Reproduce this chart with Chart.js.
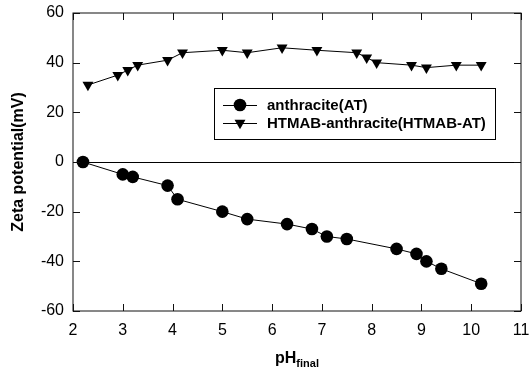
<!DOCTYPE html>
<html>
<head>
<meta charset="utf-8">
<script src="https://cdn.jsdelivr.net/npm/chart.js@4.4.1/dist/chart.umd.min.js"></script>
<style>
  body { margin: 0; background: #fff; }
</style>
</head>
<body>
<canvas id="graficoZeta" width="529" height="374"></canvas>
<script>
// anthracite(AT)
const phAT = [2.2, 3.0, 3.2, 3.9, 4.1, 5.0, 5.5, 6.3, 6.8, 7.1, 7.5, 8.5, 8.9, 9.1, 9.4, 10.2]
const zetaAT = [0, -5, -6, -9.5, -15, -20, -23, -25, -27, -30, -31, -35, -37, -40, -43, -49]
// HTMAB-anthracite(HTMAB-AT)
const phHT = [2.3, 2.9, 3.1, 3.3, 3.9, 4.2, 5.0, 5.5, 6.2, 6.9, 7.7, 7.9, 8.1, 8.8, 9.1, 9.7, 10.2]
const zetaHT = [31, 35, 37, 39, 41, 44, 45, 44, 46, 45, 44, 42, 40, 39, 38, 39, 39]

const xTicks = [2, 3, 4, 5, 6, 7, 8, 9, 10, 11]
const yTicks = [-60, -40, -20, 0, 20, 40, 60]
const rotulos = ['anthracite(AT)', 'HTMAB-anthracite(HTMAB-AT)']

function pontos(xs, ys){
    const lista = []
    for(let i = 0; i < xs.length; i++){
        lista.push({x: xs[i], y: ys[i]})
    }
    return lista
}

function desenharMarcador(ctx, estilo, x, y){
    ctx.beginPath()
    if( estilo == 'circle' ){
        ctx.arc(x, y, 6.3, 0, Math.PI * 2)
    } else {
        const r = 6.3
        ctx.moveTo(x, y + r)
        ctx.lineTo(x - r * 0.866, y - r / 2)
        ctx.lineTo(x + r * 0.866, y - r / 2)
        ctx.closePath()
    }
    ctx.fill()
}

// frame, inward ticks, legend box and the x title with subscript
const moldura = {
    id: 'moldura',
    afterDatasetsDraw(chart){
        const ctx = chart.ctx
        const area = chart.chartArea
        const sx = chart.scales.x
        const sy = chart.scales.y
        const tam = 7
        ctx.save()
        ctx.strokeStyle = '#111'
        ctx.lineWidth = 1
        ctx.strokeRect(area.left, area.top, area.right - area.left, area.bottom - area.top)
        ctx.beginPath()
        for( const v of xTicks ){
            const px = Math.round(sx.getPixelForValue(v)) + 0.5
            ctx.moveTo(px, area.bottom); ctx.lineTo(px, area.bottom - tam)
            ctx.moveTo(px, area.top); ctx.lineTo(px, area.top + tam)
        }
        for( const v of yTicks ){
            const py = Math.round(sy.getPixelForValue(v)) + 0.5
            ctx.moveTo(area.left, py); ctx.lineTo(area.left + tam, py)
            ctx.moveTo(area.right, py); ctx.lineTo(area.right - tam, py)
        }
        ctx.stroke()

        // legend
        const bx = 214.5, by = 88.5, bw = 281, bh = 51
        ctx.fillStyle = '#fff'
        ctx.fillRect(bx, by, bw, bh)
        ctx.strokeStyle = '#000'
        ctx.strokeRect(bx, by, bw, bh)
        const linhas = [105, 123]
        const estilos = ['circle', 'triangle']
        ctx.font = 'bold 15px Arial, "Liberation Sans", sans-serif'
        ctx.textBaseline = 'middle'
        for( let i = 0; i < 2; i++ ){
            const y = linhas[i]
            ctx.beginPath()
            ctx.moveTo(223, y + 0.5); ctx.lineTo(257, y + 0.5)
            ctx.stroke()
            ctx.fillStyle = '#000'
            desenharMarcador(ctx, estilos[i], 240, y)
            ctx.fillText(rotulos[i], 267, y + 1)
        }

        // x title: pH with subscript "final"
        ctx.textBaseline = 'alphabetic'
        ctx.font = 'bold 16px Arial, "Liberation Sans", sans-serif'
        const w1 = ctx.measureText('pH').width
        ctx.font = 'bold 11px Arial, "Liberation Sans", sans-serif'
        const w2 = ctx.measureText('final').width
        const cx = (area.left + area.right) / 2
        const x0 = cx - (w1 + w2) / 2
        ctx.font = 'bold 16px Arial, "Liberation Sans", sans-serif'
        ctx.fillText('pH', x0, 363)
        ctx.font = 'bold 11px Arial, "Liberation Sans", sans-serif'
        ctx.fillText('final', x0 + w1, 367)
        ctx.restore()
    }
}

const configuracao = {
    type: 'scatter',
    data: {
        datasets: [{
            label: rotulos[0],
            data: pontos(phAT, zetaAT),
            showLine: true,
            borderColor: '#000',
            backgroundColor: '#000',
            borderWidth: 1,
            pointStyle: 'circle',
            pointRadius: 6.3,
            pointBorderWidth: 0
        }, {
            label: rotulos[1],
            data: pontos(phHT, zetaHT),
            showLine: true,
            borderColor: '#000',
            backgroundColor: '#000',
            borderWidth: 1,
            pointStyle: 'triangle',
            pointRotation: 180,
            pointRadius: 6.3,
            pointBorderWidth: 0
        }]
    },
    options: {
        responsive: false,
        animation: false,
        layout: {
            padding: {top: 13, right: 8, bottom: 0, left: 0}
        },
        scales: {
            x: {
                type: 'linear',
                min: xTicks[0],
                max: xTicks[xTicks.length - 1],
                afterFit: (scale) => {
                    scale.height = 63
                    scale.paddingLeft = 0
                    scale.paddingRight = 0
                },
                afterBuildTicks: (scale) => { scale.ticks = xTicks.map(v => ({value: v})) },
                grid: {display: false, drawTicks: false},
                border: {display: false},
                ticks: {
                    color: '#000',
                    padding: 10,
                    maxRotation: 0,
                    font: {family: 'Arial, "Liberation Sans", sans-serif', size: 16}
                }
            },
            y: {
                type: 'linear',
                min: yTicks[0],
                max: yTicks[yTicks.length - 1],
                afterFit: (scale) => {
                    scale.width = 73
                    scale.paddingTop = 0
                    scale.paddingBottom = 0
                },
                afterBuildTicks: (scale) => { scale.ticks = yTicks.map(v => ({value: v})) },
                grid: {
                    drawTicks: false,
                    lineWidth: 1,
                    color: (c) => c.tick && c.tick.value === 0 ? '#000' : 'rgba(0,0,0,0)'
                },
                border: {display: false},
                ticks: {
                    color: '#000',
                    padding: 9,
                    font: {family: 'Arial, "Liberation Sans", sans-serif', size: 16}
                },
                title: {
                    display: true,
                    text: 'Zeta potential(mV)',
                    color: '#000',
                    padding: {top: 9, bottom: 0},
                    font: {family: 'Arial, "Liberation Sans", sans-serif', size: 16, weight: 'bold'}
                }
            }
        },
        plugins: {
            legend: {display: false},
            tooltip: {enabled: false}
        }
    },
    plugins: [moldura]
}

const canvas = document.getElementById('graficoZeta')
new Chart(canvas, configuracao)
</script>
</body>
</html>
